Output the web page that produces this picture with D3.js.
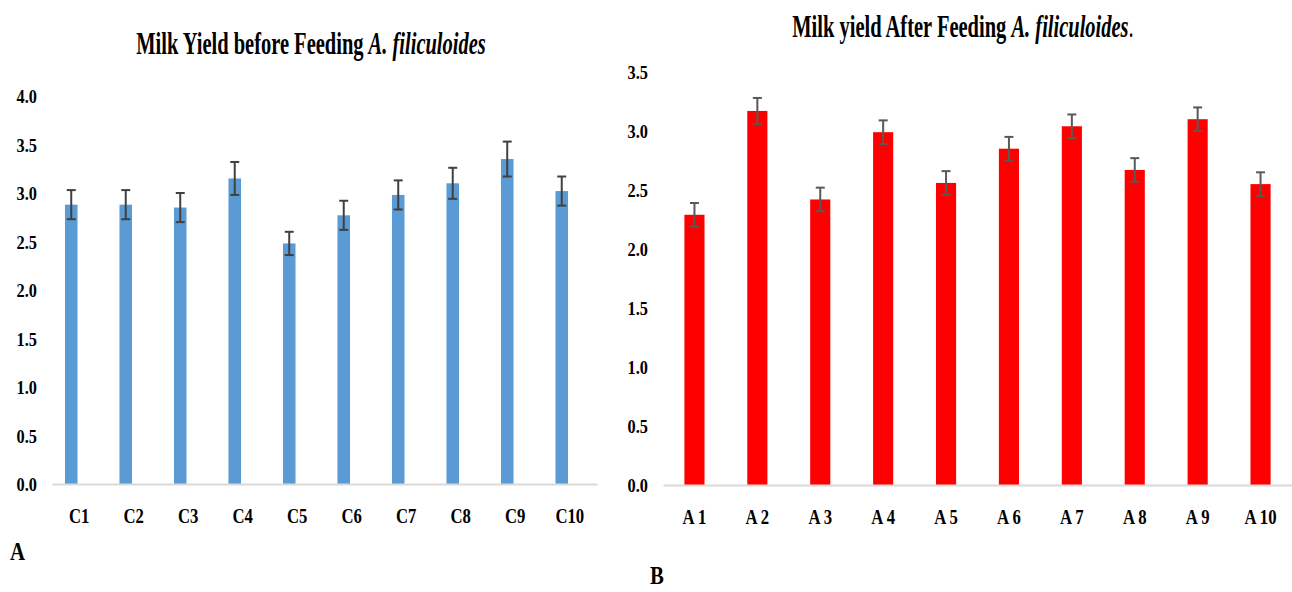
<!DOCTYPE html>
<html>
<head>
<meta charset="utf-8">
<script src="https://cdn.jsdelivr.net/npm/d3@7"></script>
<style>
  html, body { margin: 0; padding: 0; background: #fff; }
  svg { display: block; }
  svg text { font-family: "Liberation Serif", "Times New Roman", serif; }
</style>
</head>
<body>
<div id="chart"></div>
<script>
// chart data
const beforeCats = ["C1", "C2", "C3", "C4", "C5", "C6", "C7", "C8", "C9", "C10"];
const beforeVals = [2.88, 2.88, 2.85, 3.15, 2.48, 2.77, 2.98, 3.10, 3.35, 3.02];
const beforeErr = [0.15, 0.15, 0.15, 0.17, 0.12, 0.15, 0.15, 0.16, 0.18, 0.15];
const beforeTicks = [0, 0.5, 1, 1.5, 2, 2.5, 3, 3.5, 4];

const afterCats = ["A 1", "A 2", "A 3", "A 4", "A 5", "A 6", "A 7", "A 8", "A 9", "A 10"];
const afterVals = [2.29, 3.17, 2.42, 2.99, 2.56, 2.85, 3.04, 2.67, 3.10, 2.55];
const afterErr = [0.10, 0.11, 0.10, 0.10, 0.10, 0.10, 0.10, 0.10, 0.10, 0.10];
const afterTicks = [0, 0.5, 1, 1.5, 2, 2.5, 3, 3.5];

const width = 1292;
const height = 592;

const svg = d3.select("#chart")
  .append("svg")
  .attr("width", width)
  .attr("height", height);

/*
 * Draws one bar panel
 *
 * @param opt - layout + data for the panel
 */
const drawPanel = (opt) => {
  const data = opt.cats.map((c, i) => ({ cat: c, val: opt.vals[i], err: opt.errs[i] }));

  const x = d3.scaleBand().domain(opt.cats).range(opt.xRange).padding(0);
  const y = d3.scaleLinear().domain([0, opt.yMax]).range(opt.yRange);
  const step = x.bandwidth();
  const barW = step * opt.barRatio;
  const shift = step * opt.barShift;

  const g = svg.append("g");

  // bars
  g.selectAll("rect.bar")
    .data(data)
    .enter()
    .append("rect")
    .attr("class", "bar")
    .attr("x", (d) => x(d.cat) + step / 2 + shift - barW / 2)
    .attr("y", (d) => y(d.val))
    .attr("width", barW)
    .attr("height", (d) => y(0) - y(d.val))
    .attr("fill", opt.color);

  // error bars
  const eb = g.selectAll("g.err")
    .data(data)
    .enter()
    .append("g")
    .attr("class", "err")
    .attr("stroke", opt.errColor)
    .attr("stroke-width", 2);

  const cx = (d) => x(d.cat) + step / 2 + shift;
  eb.append("line")
    .attr("x1", cx).attr("x2", cx)
    .attr("y1", (d) => y(d.val + d.err))
    .attr("y2", (d) => y(d.val - d.err));
  eb.append("line")
    .attr("x1", (d) => cx(d) - opt.cap).attr("x2", (d) => cx(d) + opt.cap)
    .attr("y1", (d) => y(d.val + d.err))
    .attr("y2", (d) => y(d.val + d.err));
  eb.append("line")
    .attr("x1", (d) => cx(d) - opt.cap).attr("x2", (d) => cx(d) + opt.cap)
    .attr("y1", (d) => y(d.val - d.err))
    .attr("y2", (d) => y(d.val - d.err));

  // x-axis
  const xAxis = d3.axisBottom(x).tickSize(0).tickSizeOuter(0);
  const gx = g.append("g")
    .attr("transform", "translate(0," + y(0) + ")")
    .call(xAxis)
    .attr("font-family", null);
  gx.select(".domain").attr("stroke", "#d9d9d9").attr("stroke-width", 2);
  gx.selectAll("text")
    .attr("x", null).attr("y", null).attr("dy", null)
    .attr("fill", "#000")
    .style("font-size", "22px")
    .style("font-weight", "bold")
    .attr("text-anchor", "middle")
    .attr("transform", "translate(0,39) scale(0.76,1)");

  // y-axis
  const yAxis = d3.axisLeft(y).tickValues(opt.ticks).tickSize(0).tickFormat(d3.format(".1f"));
  const gy = g.append("g")
    .attr("transform", "translate(" + opt.xRange[0] + ",0)")
    .call(yAxis)
    .attr("font-family", null);
  gy.select(".domain").remove();
  gy.selectAll("text")
    .attr("x", null).attr("dy", "0.35em")
    .attr("fill", "#000")
    .style("font-size", "19px")
    .style("font-weight", "bold")
    .attr("text-anchor", "end")
    .attr("transform", "translate(-15,0) scale(0.86,1)");

  // title
  const t = svg.append("text")
    .attr("text-anchor", "middle")
    .attr("transform", "translate(" + opt.titleX + "," + opt.titleY + ") scale(0.64,1)")
    .style("font-size", "32px")
    .style("font-weight", "bold");
  t.append("tspan").text(opt.title);
  t.append("tspan").style("font-style", "italic").text("A. filiculoides");
  if (opt.titleTail) {
    t.append("tspan").style("font-weight", "normal").text(opt.titleTail);
  }

  // panel letter
  svg.append("text")
    .attr("transform", "translate(" + opt.letterX + "," + opt.letterY + ") scale(0.8,1)")
    .style("font-size", "26px")
    .style("font-weight", "bold")
    .text(opt.letter);
};

drawPanel({
  cats: beforeCats, vals: beforeVals, errs: beforeErr, ticks: beforeTicks,
  yMax: 4, xRange: [52, 597], yRange: [484, 96],
  barRatio: 0.23, barShift: -0.147, cap: 4.5,
  color: "#5b9bd5", errColor: "#404040",
  title: "Milk Yield before Feeding ", titleX: 311, titleY: 54,
  letter: "A", letterX: 10, letterY: 560
});

drawPanel({
  cats: afterCats, vals: afterVals, errs: afterErr, ticks: afterTicks,
  yMax: 3.5, xRange: [663, 1292], yRange: [485, 72],
  barRatio: 0.32, barShift: 0, cap: 4.5,
  color: "#ff0000", errColor: "#595959",
  title: "Milk yield After Feeding ", titleTail: ".", titleX: 963, titleY: 37,
  letter: "B", letterX: 650, letterY: 584
});
</script>
</body>
</html>
